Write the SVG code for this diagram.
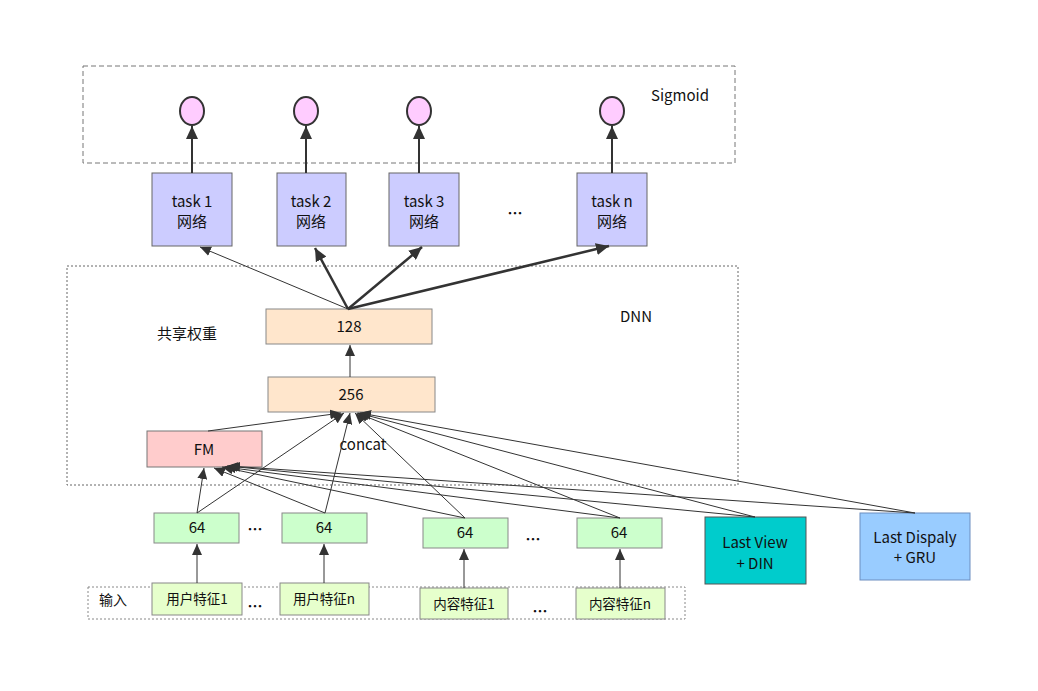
<svg xmlns="http://www.w3.org/2000/svg" width="1038" height="691" viewBox="0 0 1038 691">
<defs>
<style>
text{font-family:"Noto Sans CJK SC","Liberation Sans",sans-serif;fill:#111;font-size:15px;text-anchor:middle;}
.lbl{text-anchor:start;}
.dots{font-weight:bold;font-size:15px;}
.task rect{fill:#ccccff;stroke:#666;stroke-width:1;}
.dense rect{fill:#ffe6cc;stroke:#888;stroke-width:1;}
.emb rect{fill:#ccffcc;stroke:#888;stroke-width:1;}
.inp rect{fill:#e6ffcc;stroke:#888;stroke-width:1;}
.inp text{font-size:13.5px;}
.sig ellipse{fill:#ffccff;stroke:#333;stroke-width:2;}
.c{fill:none;stroke:#333;stroke-width:1;}
.ct{fill:none;stroke:#333;stroke-width:2.5;}
.cm{fill:none;stroke:#333;stroke-width:2;}
</style>
<marker id="a" markerUnits="userSpaceOnUse" markerWidth="12" markerHeight="10" refX="11" refY="5" orient="auto"><path d="M0,0 L11,5 L0,10 Z" fill="#333"/></marker>
<marker id="at" markerUnits="userSpaceOnUse" markerWidth="14" markerHeight="12" refX="13" refY="6" orient="auto"><path d="M0,0 L13,6 L0,12 Z" fill="#333"/></marker>
</defs>
<rect width="1038" height="691" fill="#fff"/>
<g id="sigmoid-group">
<rect x="83" y="66" width="652" height="97" fill="none" stroke="#777" stroke-width="1" stroke-dasharray="5,3"/>
<text x="651" y="101" class="lbl">Sigmoid</text>
</g>
<g id="dnn-group">
<rect x="67" y="266" width="671" height="219" fill="none" stroke="#666" stroke-width="1" stroke-dasharray="2,2"/>
<text x="636" y="322">DNN</text>
<text x="187" y="339">共享权重</text>
<text x="363" y="450">concat</text>
</g>
<g id="input-group">
<rect x="88" y="587" width="597" height="32" fill="none" stroke="#888" stroke-width="1" stroke-dasharray="2,2"/>
<text x="113" y="605" style="font-size:14px">输入</text>
</g>
<g class="sig" id="sig1"><ellipse cx="192" cy="111" rx="12" ry="14"/></g>
<g class="sig" id="sig2"><ellipse cx="306" cy="111" rx="12" ry="14"/></g>
<g class="sig" id="sig3"><ellipse cx="419" cy="111" rx="12" ry="14"/></g>
<g class="sig" id="sign"><ellipse cx="612" cy="111" rx="12" ry="14"/></g>
<g class="task" id="task1"><rect x="152" y="173" width="80" height="73"/><text x="192" y="207">task 1</text><text x="192" y="227">网络</text></g>
<g class="task" id="task2"><rect x="277" y="173" width="69" height="73"/><text x="311" y="207">task 2</text><text x="311" y="227">网络</text></g>
<g class="task" id="task3"><rect x="389" y="173" width="70" height="73"/><text x="424" y="207">task 3</text><text x="424" y="227">网络</text></g>
<g class="task" id="taskn"><rect x="577" y="173" width="70" height="73"/><text x="612" y="207">task n</text><text x="612" y="227">网络</text></g>
<g id="dots-task"><text class="dots" x="515" y="219">…</text></g>
<g class="dense" id="d128"><rect x="266" y="309" width="166" height="35"/><text x="349" y="332">128</text></g>
<g class="dense" id="d256"><rect x="268" y="377" width="167" height="35"/><text x="351" y="400">256</text></g>
<g id="fm"><rect x="147" y="431" width="115" height="36" fill="#ffcccc" stroke="#777" stroke-width="1"/><text x="204" y="455">FM</text></g>
<g class="emb" id="e1"><rect x="154" y="513" width="85" height="30"/><text x="197" y="533">64</text></g>
<g class="emb" id="e2"><rect x="282" y="513" width="85" height="30"/><text x="324" y="533">64</text></g>
<g class="emb" id="e3"><rect x="423" y="518" width="85" height="30"/><text x="465" y="538">64</text></g>
<g class="emb" id="e4"><rect x="577" y="518" width="85" height="30"/><text x="619" y="538">64</text></g>
<g id="lastview"><rect x="705" y="517" width="101" height="67" fill="#00cccc" stroke="#555" stroke-width="1"/><text x="755" y="548">Last View</text><text x="755" y="569">+ DIN</text></g>
<g id="lastdisp"><rect x="860" y="513" width="110" height="67" fill="#99ccff" stroke="#6c8ebf" stroke-width="1"/><text x="915" y="543">Last Dispaly</text><text x="915" y="563">+ GRU</text></g>
<g class="inp" id="i1"><rect x="152" y="583" width="90" height="32"/><text x="197" y="604">用户特征1</text></g>
<g class="inp" id="i2"><rect x="280" y="583" width="89" height="32"/><text x="324" y="604">用户特征n</text></g>
<g class="inp" id="i3"><rect x="420" y="588" width="88" height="31"/><text x="464" y="609">内容特征1</text></g>
<g class="inp" id="i4"><rect x="576" y="588" width="89" height="31"/><text x="620" y="609">内容特征n</text></g>
<g id="dots-bottom">
<text class="dots" x="255" y="535">…</text>
<text class="dots" x="255" y="612">…</text>
<text class="dots" x="533" y="545">…</text>
<text class="dots" x="540" y="617">…</text>
</g>
<g id="connectors">
<line class="cm" x1="192" y1="173" x2="192" y2="126" marker-end="url(#at)"/>
<line class="cm" x1="306" y1="173" x2="306" y2="126" marker-end="url(#at)"/>
<line class="cm" x1="419" y1="173" x2="419" y2="126" marker-end="url(#at)"/>
<line class="cm" x1="612" y1="173" x2="612" y2="126" marker-end="url(#at)"/>
<line class="c" x1="348" y1="309" x2="200" y2="247" marker-end="url(#a)"/>
<line class="ct" x1="348" y1="309" x2="315" y2="248" marker-end="url(#at)"/>
<line class="ct" x1="348" y1="309" x2="422" y2="247" marker-end="url(#at)"/>
<line class="ct" x1="348" y1="309" x2="609" y2="246" marker-end="url(#at)"/>
<line class="c" x1="350" y1="377" x2="350" y2="345" marker-end="url(#a)"/>
<line class="c" x1="208" y1="431" x2="341" y2="413" marker-end="url(#a)"/>
<line class="c" x1="197" y1="513" x2="344" y2="413" marker-end="url(#a)"/>
<line class="c" x1="325" y1="513" x2="350" y2="413" marker-end="url(#a)"/>
<line class="c" x1="465" y1="518" x2="355" y2="413" marker-end="url(#a)"/>
<line class="c" x1="620" y1="518" x2="357" y2="413" marker-end="url(#a)"/>
<line class="c" x1="755" y1="517" x2="358" y2="413" marker-end="url(#a)"/>
<line class="c" x1="915" y1="513" x2="360" y2="413" marker-end="url(#a)"/>
<line class="c" x1="197" y1="513" x2="204" y2="468" marker-end="url(#a)"/>
<line class="c" x1="325" y1="513" x2="214" y2="468" marker-end="url(#a)"/>
<line class="c" x1="465" y1="518" x2="222" y2="467" marker-end="url(#a)"/>
<line class="c" x1="620" y1="518" x2="225" y2="467" marker-end="url(#a)"/>
<line class="c" x1="755" y1="517" x2="227" y2="466" marker-end="url(#a)"/>
<line class="c" x1="915" y1="513" x2="229" y2="466" marker-end="url(#a)"/>
<line class="c" x1="197" y1="583" x2="197" y2="544" marker-end="url(#a)"/>
<line class="c" x1="324" y1="583" x2="324" y2="544" marker-end="url(#a)"/>
<line class="c" x1="464" y1="588" x2="464" y2="549" marker-end="url(#a)"/>
<line class="c" x1="620" y1="588" x2="620" y2="549" marker-end="url(#a)"/>
</g>
</svg>
